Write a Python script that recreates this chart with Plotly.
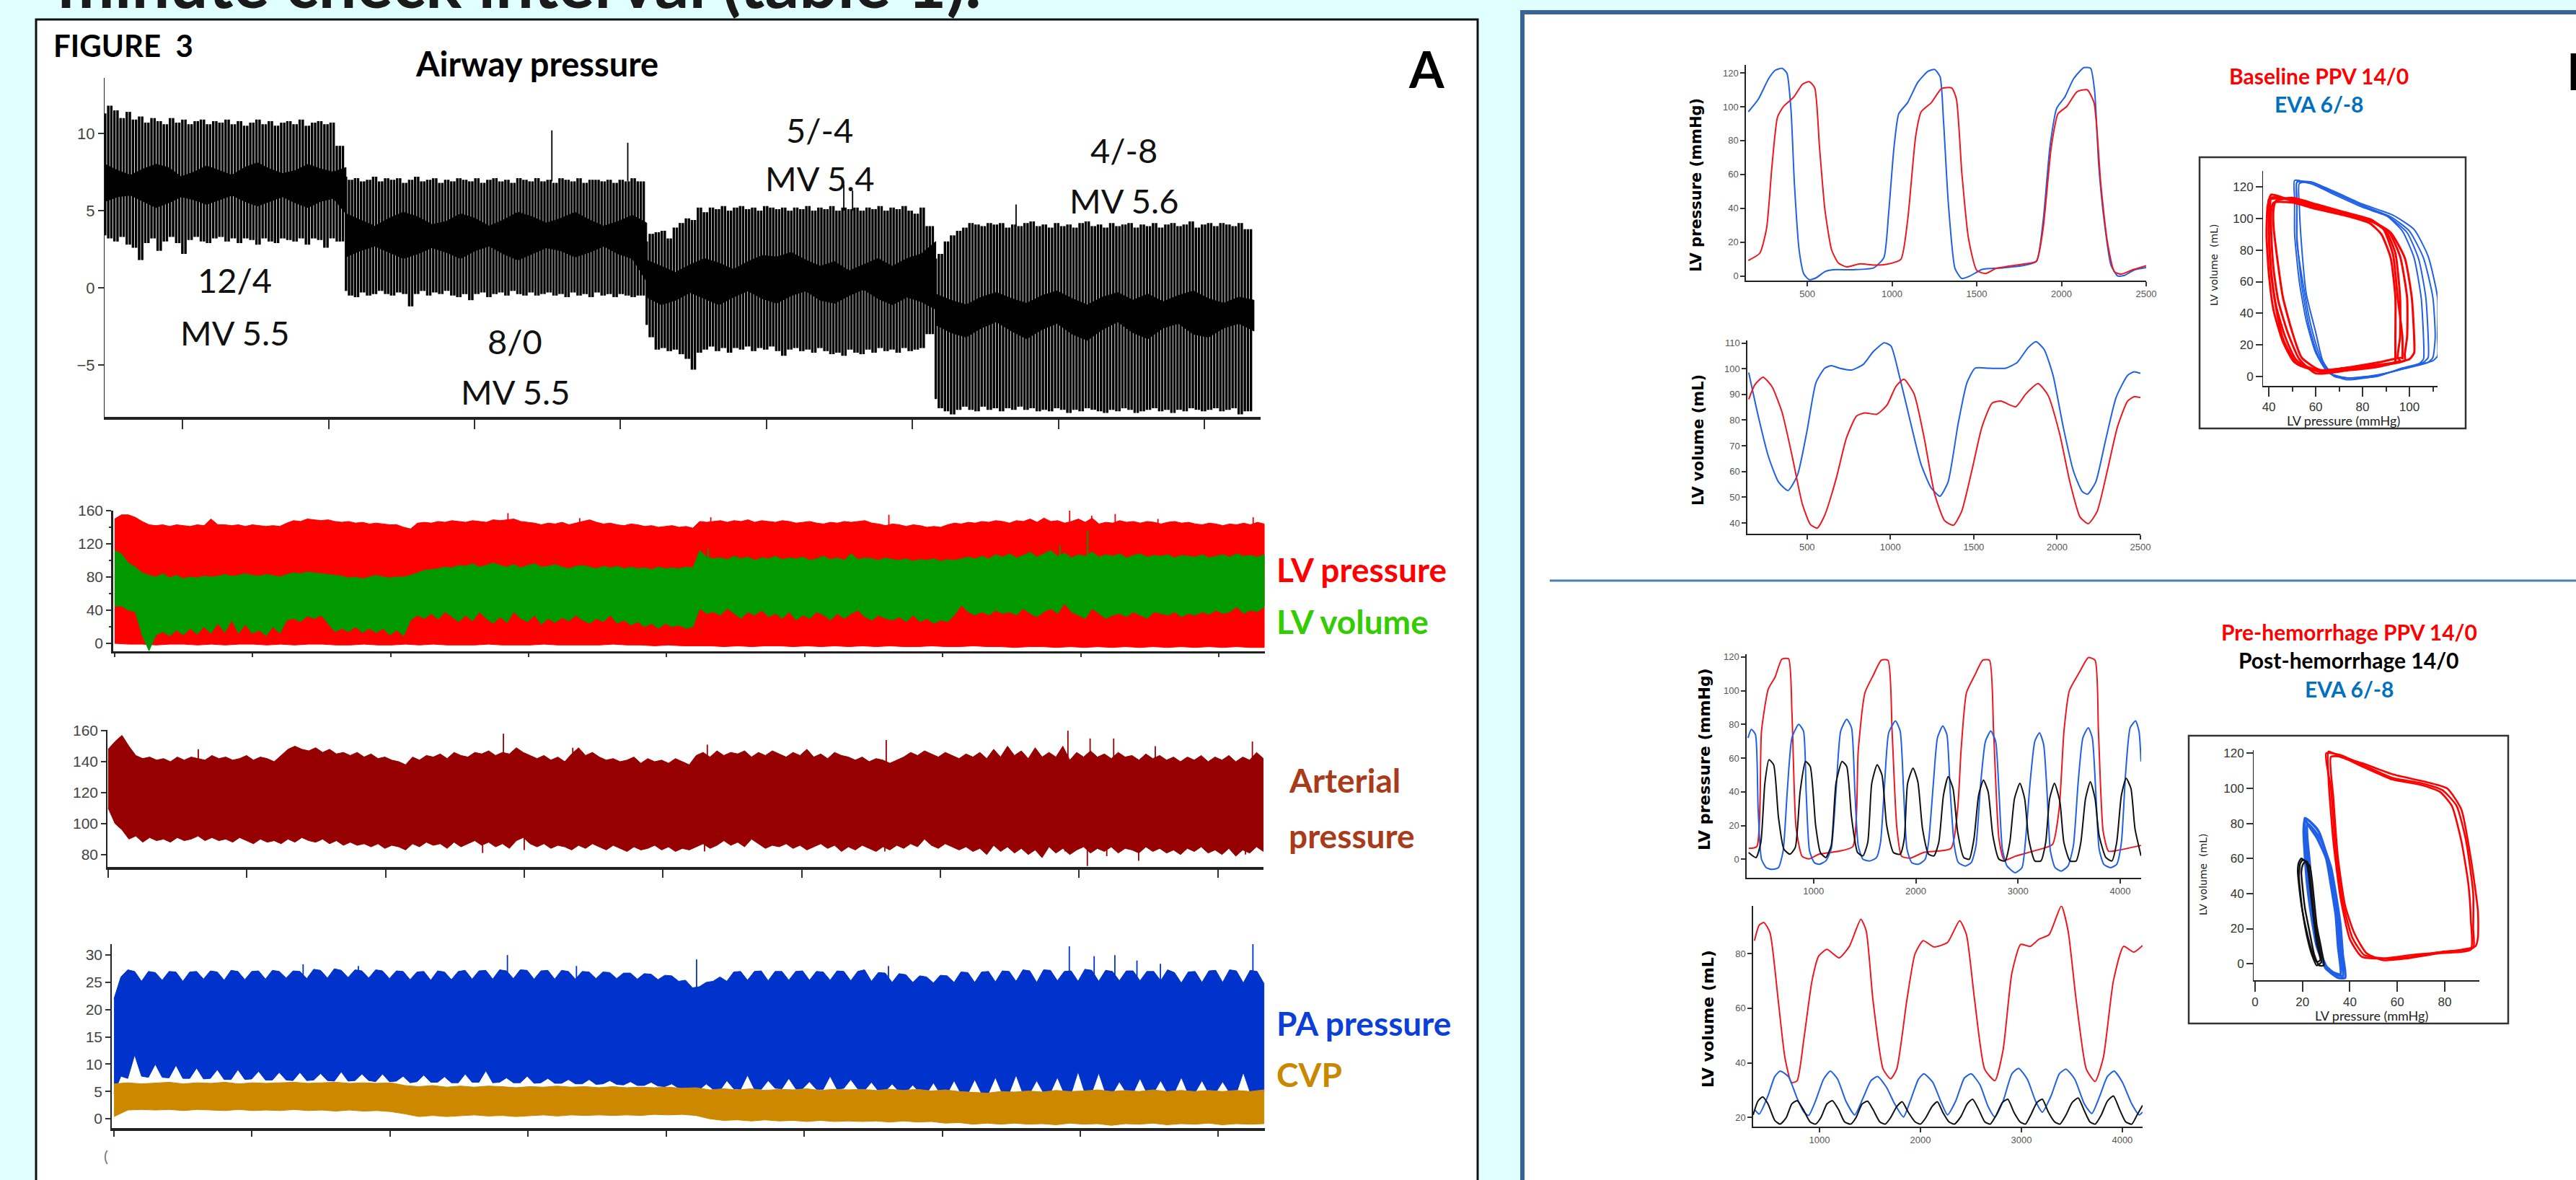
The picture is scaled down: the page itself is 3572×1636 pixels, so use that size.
import numpy as np
import plotly.graph_objects as go

W, H = 3572, 1636
BG = "#E0FFFF"
FONT = "Lato"
TICKFONT = "Liberation Sans"

# ---------- Panel A: airway pressure, one top / bottom value per breath ----------
AW_TOP_1 = [11.3,11.8,11.5,11.0,11.4,10.9,11.1,10.7,11.0,10.8,10.6,11.0,10.7,10.9,10.6,10.8,10.9,10.6,10.8,10.7,10.9,10.6,10.8,10.5,10.7,10.9,10.6,10.8,10.5,10.7,10.8,10.6,10.9,10.5,10.7,10.8,10.6,10.7,9.2]
AW_LOW_1 = [3.4,3.2,3.0,3.3,2.8,2.6,1.8,2.9,3.2,2.4,3.0,3.3,2.9,2.2,3.1,3.3,3.0,2.9,3.2,3.3,3.0,3.2,2.9,3.2,3.1,2.8,3.2,3.0,2.9,3.2,3.1,3.0,3.2,2.8,3.2,3.1,2.6,3.2,3.0]
AW_TOP_2 = [7.2,7.0,7.1,6.9,7.0,7.2,6.9,7.1,7.0,7.1,6.8,7.0,7.2,6.9,7.0,7.1,6.8,7.0,6.9,7.1,7.0,6.9,7.1,6.8,7.0,7.1,6.9,7.0,6.8,7.1,7.0,6.9,7.1,6.9,7.0,6.8,7.1,7.0,6.9,7.1,6.8,7.0,7.0,6.9,7.0,6.8,7.0,6.9,7.1,6.9]
AW_LOW_2 = [-0.2,-0.5,-0.6,-0.3,-0.5,-0.4,-0.2,-0.4,-0.5,-0.3,-0.4,-1.2,-0.4,-0.2,-0.5,-0.3,-0.4,-0.2,-0.5,-0.6,-0.4,-0.8,-0.4,-0.3,-0.6,-0.4,-0.3,-0.5,-0.2,-0.4,-0.5,-0.3,-0.5,-0.4,-0.3,-0.5,-0.4,-0.6,-0.3,-0.5,-0.4,-0.6,-0.3,-0.5,-0.4,-0.6,-0.4,-0.5,-0.6,-0.5]
AW_TOP_3 = [3.0,3.5,3.6,3.7,3.2,3.9,4.2,4.5,4.4,5.2,4.9,5.2,5.1,5.3,5.0,5.2,5.3,5.1,5.2,5.0,5.3,5.2,5.1,5.2,5.0,5.2,5.1,5.3,5.0,5.2,5.1,5.3,5.0,5.2,5.1,5.2,5.0,5.2,5.1,5.3,5.0,5.2,5.1,5.3,5.0,4.8,5.2,4.0]
AW_LOW_3 = [-2.4,-3.2,-4.0,-3.9,-4.1,-4.0,-4.3,-4.6,-5.3,-4.2,-4.0,-3.8,-4.1,-3.9,-4.2,-3.9,-4.0,-3.8,-4.1,-3.9,-4.0,-3.8,-4.1,-4.4,-4.0,-3.9,-4.1,-4.0,-4.2,-3.9,-4.1,-4.3,-4.2,-4.4,-4.0,-4.2,-4.3,-4.0,-4.2,-3.9,-4.1,-4.0,-4.2,-3.9,-4.1,-4.0,-3.9,-3.0]
AW_TOP_4 = [1.9,2.2,3.0,3.4,3.7,3.9,4.2,4.1,4.0,4.2,4.1,4.2,3.9,4.1,4.0,4.2,4.3,4.0,4.1,3.9,4.2,4.0,4.1,3.9,4.2,4.3,4.0,4.1,3.9,4.2,4.0,4.1,4.2,3.9,4.1,4.0,4.2,3.9,4.1,4.2,4.0,4.1,4.3,3.9,4.1,4.2,4.0,4.2,4.1,4.0,4.2,3.8]
AW_LOW_4 = [-7.2,-7.8,-8.0,-8.2,-7.9,-7.7,-7.9,-8.0,-7.7,-7.9,-7.8,-8.0,-7.8,-7.9,-7.7,-7.9,-7.8,-8.0,-7.9,-8.0,-7.8,-7.9,-8.1,-7.9,-8.0,-7.8,-7.9,-8.0,-8.1,-7.9,-8.0,-7.8,-7.9,-8.1,-8.0,-7.9,-7.8,-8.0,-7.9,-8.1,-7.9,-8.0,-7.8,-7.9,-8.0,-7.9,-7.8,-8.0,-7.9,-7.8,-8.2,-8.0]
AW_SEG_T = [0.47, 2.12, 4.18, 6.16, 8.34]
# solid dark middle of each ventilator setting
AW_CORE_TOP = [
 [8.0,7.6,7.3,7.7,8.0,7.8,7.2,7.5,7.9,7.6,7.3,7.8,8.1,7.7,7.4,7.6,8.0,7.7,7.5,7.8],
 [4.8,4.4,4.0,4.5,4.9,4.6,4.1,4.3,4.8,4.5,4.0,4.4,4.9,4.6,4.2,4.5,4.9,4.4,4.0,4.3,4.7,4.2],
 [1.8,1.4,1.0,1.5,1.9,1.6,1.2,1.7,2.1,2.0,2.3,1.8,1.4,1.7,1.1,1.5,1.9,1.4,1.9,2.2,3.0],
 [-0.4,-0.8,-1.1,-0.6,-0.3,-0.7,-1.0,-0.5,-0.2,-0.7,-1.1,-0.6,-0.3,-0.8,-0.4,-0.9,-0.5,-0.2,-0.7,-1.0,-0.6,-0.8]]
AW_CORE_LOW = [
 [5.6,5.9,6.0,5.6,5.2,5.5,5.9,5.7,5.4,5.7,6.0,5.6,5.3,5.6,5.9,5.5,5.2,5.6,5.8,4.8],
 [2.0,2.4,2.7,2.3,1.9,2.2,2.6,2.3,1.9,2.4,2.7,2.2,1.8,2.2,2.6,2.4,2.0,2.3,2.7,2.2,1.9,0.4],
 [-0.6,-1.1,-0.8,-0.3,-0.7,-1.1,-0.6,-0.2,-0.7,-1.0,-0.5,-0.2,-0.8,-1.0,-0.5,-0.1,-0.7,-1.1,-0.6,-0.9,-1.4],
 [-2.4,-2.9,-3.2,-2.6,-2.2,-2.8,-3.3,-2.7,-2.3,-3.0,-3.4,-2.7,-2.2,-2.9,-3.3,-2.6,-2.3,-3.0,-3.2,-2.6,-2.3,-2.8]]
AW_SPIKE_T = [3.53, 4.05, 5.53, 5.59, 6.71]
AW_SPIKE_V = [10.2, 9.4, 6.7, 6.3, 5.4]
AW_SPIKE_BASE = [6.9, 6.9, 5.0, 5.0, 4.0]
AW_YTICKS = [10, 5, 0, -5]
AW_XTICKS = [1, 2, 3, 4, 5, 6, 7, 8]

# ---------- Panel A: envelopes of the dense monitor traces ----------
LVP_TOP = [150,155,155,152,147,143,142,143,141,143,142,141,143,142,150,143,143,142,143,141,143,142,141,142,141,145,148,147,150,149,148,149,147,146,147,145,146,144,145,144,143,143,
 140,138,145,146,145,147,146,148,147,146,148,147,146,149,148,149,150,147,146,145,143,145,144,146,143,145,147,149,146,144,145,143,142,144,143,141,142,140,141,142,140,141,
 139,147,146,147,148,146,148,147,149,146,148,147,146,148,147,145,146,147,145,144,146,145,147,146,147,148,145,144,142,144,143,141,143,142,140,141,140,143,145,144,146,145,
 147,146,148,147,145,148,147,150,146,151,147,148,145,147,150,146,151,144,146,145,148,146,147,145,147,146,144,146,147,145,146,144,143,145,144,142,144,143,145,143,146,144]
LVP_LOW = [0,-1,-1,-2,-1,-1,-2,-1,-2,-1,-1,-2,-1,-2,-1,-1,-2,-2,-1,-2,-2,-1,-2,-1,-2,-2,-2,-1,-2,-2,-2,-1,-2,-2,-2,-2,-1,-2,-2,-3,-2,-3,-3,-3,-4,-3,-4,-3,-3,-4,-3,-4,-3,-4,-3,-4,-3,-4,-4,-3,-4,-4,-3,-4,-4,-5,-4,-4,-5,-4,-5,-4,-5,-4,-5,-4,-5,-4,-5,-4,-5,-4,-5,-5]
LVV_TOP = [112,108,97,92,85,82,80,84,79,82,78,80,79,81,80,81,83,81,82,84,82,81,83,82,80,83,85,84,86,85,84,83,82,81,79,80,78,80,82,80,79,80,
 80,82,85,88,89,90,92,91,94,93,96,92,94,97,94,92,95,91,94,96,92,93,95,92,90,93,94,92,90,93,91,93,90,92,90,91,89,92,90,91,90,92,
 91,112,104,102,103,101,105,102,104,100,103,102,105,101,103,102,104,100,102,105,101,103,100,108,101,103,102,100,103,101,100,102,99,101,100,102,99,101,100,102,104,102,
 105,102,107,104,108,103,106,110,104,108,112,105,109,103,107,105,110,104,107,105,108,103,106,108,104,106,105,107,103,106,105,104,107,103,105,107,104,108,105,106,104,107]
LVV_LOW = [45,45,40,38,10,-9,10,14,9,16,10,18,11,20,12,24,13,28,12,23,12,16,9,20,12,28,30,26,33,30,34,24,14,18,14,20,13,18,13,18,10,16,
 9,28,34,30,36,29,38,32,26,34,27,38,30,24,32,25,38,30,26,34,23,30,25,31,27,34,28,24,30,26,34,24,28,22,26,20,24,18,24,20,22,18,
 20,42,36,38,34,42,36,30,38,34,40,32,36,30,38,28,34,30,38,34,28,36,30,36,40,32,28,34,30,28,32,26,34,26,30,24,28,26,34,46,38,34,
 38,34,40,36,38,34,42,36,32,38,42,36,48,38,34,30,42,36,30,34,36,32,38,34,30,38,36,34,38,32,36,34,38,35,40,36,38,44,36,40,38,44]
ART_TOP = [148,153,157,150,144,142,143,141,142,140,143,141,143,142,141,144,142,143,141,142,144,141,143,142,140,144,148,150,148,147,149,146,148,145,146,144,146,143,145,142,143,141,
 140,138,143,141,144,143,145,142,146,144,143,146,145,147,144,146,145,149,146,144,142,144,141,143,140,145,149,144,146,143,141,142,140,141,143,139,142,140,141,139,142,140,
 138,144,146,143,147,144,146,145,147,143,146,144,147,145,143,146,144,148,143,145,142,146,144,143,141,143,140,142,141,139,141,143,146,144,147,145,143,146,144,142,145,143,
 146,142,148,143,150,144,147,142,149,143,146,143,150,141,146,143,147,143,145,142,146,143,144,141,145,142,144,141,143,140,143,141,144,140,143,141,144,140,143,141,146,142]
ART_LOW = [110,100,96,90,92,88,91,89,90,88,91,89,90,92,89,91,89,90,88,91,89,87,90,88,89,87,90,88,91,89,88,90,87,89,86,88,86,87,85,87,84,86,
 85,83,87,85,88,86,87,84,88,85,87,89,86,88,85,87,84,89,91,87,85,87,84,86,85,83,86,84,87,85,83,86,84,82,85,83,84,86,83,85,82,84,
 83,85,87,84,86,89,86,88,85,90,87,84,86,85,87,84,86,83,85,87,84,86,82,85,83,86,84,82,85,83,86,84,87,85,90,86,84,87,85,83,85,82,
 84,80,86,82,85,81,84,80,83,78,85,81,84,80,83,85,81,84,82,85,81,84,83,81,85,82,84,81,83,80,84,82,85,81,83,80,84,79,83,81,85,82]
PA_TOP = [22,26,27.3,27,25.2,27,26.8,25.4,27,26.9,25.2,26.9,27,25.6,27.1,26.9,25.4,27.2,27,25.5,27,27.1,25.6,27.2,27,25.8,27.1,27,25.7,27.4,27.2,25.8,27.5,27.2,25.9,27.3,27.1,25.8,27.3,27.1,25.7,27.1,
 27,25.5,26.9,27,25.4,27.1,26.9,25.5,27,27.2,25.6,27.1,27.2,25.6,27.3,27.1,25.7,27.3,27.2,25.6,27.1,27.2,25.6,27.2,27,25.6,27,26.9,25.7,26.9,26.8,25.7,26.7,26.7,25.6,26.6,26.5,25.5,26.3,26.2,25.2,25.4,
 24,24.2,25,25.2,26,25.2,26.9,27,25.4,27,27.1,25.3,27,27,25.4,27,27.1,25.4,27,26.9,25.4,27.1,27,25.3,27,27.3,25.2,26.8,26.7,25,26.6,26.4,25,26.2,26,24.9,26.3,26.2,25,26.9,26.8,25,
 26.9,27,25.1,27.1,27,25.2,27.3,27.1,25,27.3,27.2,25.3,27,27.1,25.2,27.4,27.2,25.2,27.2,27,25.3,27.1,27.1,25.3,27,27,25.3,27.3,26.8,24.9,26.9,27,25,27.1,27.2,25,27.3,27.1,24.9,27.2,27,24.8]
PA_LOW = [4.6,7.8,7.4,11.7,7.8,7.6,10,7.6,7.5,9.8,7.4,7.4,9.3,7.3,7.4,9,7.2,7.2,9,7.2,7.3,8.7,7.1,7.1,8.5,7.1,7,8.5,7,7.1,8.3,7,6.9,8.6,6.9,7,8.2,7,6.8,8.2,6.8,6.9,
 7.8,6.6,6.8,8,6.7,6.7,7.7,6.6,6.6,8.2,6.7,6.7,8.8,6.6,6.7,7.5,6.6,6.6,7.8,6.5,6.6,7.4,6.5,6.5,7.2,6.4,6.4,7.2,6.3,6.4,7,6.3,6.2,6.8,6.1,6.1,6.7,6,5.9,6.4,5.6,5.2,
 5.2,5.3,6.4,5.4,5.2,7,5.5,5.4,8,5.4,5.4,7,5.6,5.5,7.4,5.5,5.5,6.8,5.4,5.4,7.8,5.4,5.6,7.2,5.5,5.2,6.7,5.1,5,6.4,5,4.8,6.2,4.8,4.6,6.6,4.6,4.6,7,4.6,4.6,7.2,
 4.6,4.7,7.6,4.6,4.7,8,4.6,4.7,7,4.7,4.8,7.6,4.6,4.6,8.6,4.7,4.8,8.4,4.7,4.6,6.8,4.8,4.7,7.4,4.7,4.8,7,4.7,4.8,7.6,4.6,4.8,7,4.6,4.8,6.8,4.8,4.7,8.5,4.8,4.7,5]
CVP_TOP = [6.4,6.6,6.4,6.5,6.7,6.4,6.6,6.5,6.7,6.4,6.6,6.5,6.6,6.7,6.5,6.6,6.7,6.5,6.6,6.5,6.6,6.1,5.9,6.1,5.8,6,5.8,6,5.9,5.7,5.9,5.8,6,5.8,5.9,5.7,5.9,5.7,5.8,5.7,5.8,5.6,5.7,5.3,5.5,5.3,5.5,5.2,5.4,5.3,5.5,5.2,5.4,5.3,5.4,5.2,5.4,5.2,5.4,5.1,5.3,5,4.9,4.7,5,4.9,5.1,4.9,5.2,5,5.1,5.3,5,5.2,5,5.3,5,5.2,5,5.2,5,5.2,5,5.3]
CVP_LOW = [0.4,1.6,1.7,1.6,1.7,1.5,1.7,1.6,1.5,1.7,1.5,1.6,1.5,1.7,1.5,1.6,1.4,1.6,1.4,1.5,1.3,0.9,0.4,0.6,0.4,0.5,0.7,0.5,0.6,0.4,0.6,0.7,0.5,0.7,0.6,0.7,0.6,0.7,0.6,0.8,0.7,0.8,0.6,0.0,-0.3,-0.2,-0.4,-0.2,-0.4,-0.3,-0.5,-0.3,-0.5,-0.4,-0.5,-0.4,-0.6,-0.4,-0.6,-0.5,-0.8,-0.7,-1.0,-0.8,-1.0,-0.8,-1.0,-0.9,-1.1,-0.8,-1.0,-0.9,-1.2,-0.9,-1.0,-0.8,-1.1,-0.9,-1.0,-0.8,-1.1,-0.9,-1.0,-0.9]
LVP_SPIKE_T = [2.85,3.37,4.32,5.61,6.92,7.08,7.25,7.56,8.25]
LVP_SPIKE_V = [157,151,152,155,160,154,156,150,152]
LVV_SPIKE_T = [7.05,4.3,6.85]
LVV_SPIKE_V = [136,114,118]
ART_SPIKE_T = [0.65,2.85,3.35,4.32,5.61,6.92,7.08,7.25,7.55,8.25]
ART_SPIKE_V = [148,158,149,151,154,160,155,155,150,153]
ART_DIP_T = [2.7,3.0,4.3,5.6,6.9,7.06,7.2,7.43,8.2]
ART_DIP_V = [81,83,82,82,82,72.6,79,76,80]
PA_SPIKE_T = [1.37,1.77,2.85,3.35,4.22,5.61,6.92,7.1,7.25,7.41,7.58,8.25]
PA_SPIKE_V = [28.3,28,30,28,29.2,28,31.6,29.8,30,29,28.4,32]

LV_YTICKS = [160, 120, 80, 40, 0]
LV_YMINOR = [140, 100, 60, 20]
ART_YTICKS = [160, 140, 120, 100, 80]
PA_YTICKS = [30, 25, 20, 15, 10, 5, 0]
STRIP_XTICKS = [0, 1, 2, 3, 4, 5, 6, 7, 8]

# ---------- Panel B top: LV pressure, LV volume ----------
B1_BLUE_T = [152,212,272,312,352,380,404,424,452,480,512,552,604,652,772,892,952,980,1012,1040,1092,1152,1212,1252,1284,1304,1332,1372,1412,1460,1532,1652,1772,1852,1892,1932,1972,2020,2072,2132,2172,2196,2220,2252,2292,2332,2372,2432,2500]
B1_BLUE_V = [97,104.6,116.6,121.6,122.7,119.8,98,54.5,15.3,1.1,-2.2,-1.1,2.6,3.7,3.7,4.8,10.9,37,76.3,95.9,102.4,114.4,120.9,122,117.6,91.5,43.6,4.4,-1.5,0,3.9,4.8,6.1,8.7,32.7,76.3,99.1,105.7,116.6,123.1,122.7,108.9,65.4,32.7,6.5,0,0.4,3.7,5]
B1_RED_T = [152,220,260,292,324,360,420,472,512,544,572,604,644,684,732,812,892,972,1052,1092,1140,1172,1232,1292,1352,1380,1412,1452,1500,1552,1612,1692,1772,1852,1892,1940,1980,2032,2092,2152,2192,2232,2272,2312,2352,2420,2500]
B1_RED_V = [9.2,13.5,28.3,65.4,93.7,100.2,105.7,113.3,114.8,111.1,76.3,39.2,15.3,7.6,5.4,7.2,6.5,7,9.8,32.7,82.8,97,102.4,110.7,111.1,104.6,61,21.8,3.3,1.5,4.4,5.9,7,8.7,28.3,76.3,95.9,100.2,108.9,110,102.4,54.5,19.6,2.6,1.1,3.7,6.1]
B2_BLUE_T = [150,207,268,329,386,443,500,553,606,646,695,768,838,898,963,1004,1053,1122,1183,1244,1297,1346,1407,1459,1508,1590,1691,1760,1825,1874,1923,1976,2037,2098,2150,2183,2232,2289,2354,2423,2463,2500]
B2_BLUE_V = [98.5,81.6,65.9,55.9,52.6,58.7,75.9,94.5,100.2,101.2,100.2,99.5,101.7,106.7,110.1,108.8,97.4,78.8,63,53.7,50.4,55.9,78.8,94.5,100.2,100.2,100.2,102.4,108.1,110.5,107.4,97.4,77.3,60.2,52.3,51.2,55.9,71.6,88.8,97.4,98.8,98.2]
B2_RED_T = [150,187,236,289,350,411,472,520,561,606,675,736,797,846,919,980,1033,1081,1142,1203,1264,1325,1378,1427,1488,1549,1610,1663,1752,1813,1886,1947,2016,2077,2138,2187,2240,2301,2362,2423,2463,2500]
B2_RED_V = [88.1,93.8,96.7,93.1,83.1,65.9,47.3,39.4,38,43,57.3,73,81.6,82.8,82.3,85.9,93.1,95.9,90.2,73,51.6,40.9,39.1,44.4,60.2,77.3,86.6,87.4,85.2,90.2,94.2,89.5,74.5,55.9,42.3,39.7,44.4,60.2,77.3,87.4,89.1,88.8]
B1_YTICKS = [120,100,80,60,40,20,0]
B1_XTICKS = [500,1000,1500,2000,2500]
B2_YTICKS = [110,100,90,80,70,60,50,40]
B2_XTICKS = [500,1000,1500,2000,2500]

# ---------- Panel B top inset: pressure / volume loops ----------
L1_RED_P = [
 [41,50,60,72,84,90,94,96,96,95,96,88,75,62,52,47,43,41,40,40.5,41],
 [41,50,60,72,84,92,98,101,102,102,100,90,76,62,51,46,42,40,39,39.5,41],
 [42,50,60,72,83,88,92,94,94,94,94,86,74,60,53,48,44,42,41,41,42],
 [40,50,60,72,84,91,96,99,99,98,98,88,76,63,52,46,43,41,40,40,40],
 [43,50,60,72,84,89,93,95,97,97,97,87,75,62,54,50,46,44,42,42,43]]
L1_RED_V = [
 [113,112,108,103,98,92,78,50,25,12,10,7,5,3,10,25,45,65,90,105,113],
 [115,111,107,103,98,91,75,50,25,15,11,8,6,4,9,22,42,65,90,108,115],
 [110,110,106,102,97,90,75,50,25,10,9,6,4,2,11,28,48,68,92,105,110],
 [112,112,108,103,98,92,76,50,25,14,10,7,5,3,8,24,44,66,92,108,112],
 [111,113,109,104,99,93,77,50,25,11,12,9,6,4,12,28,50,70,95,106,111]]
L1_BLUE_P = [
 [52,58,68,80,92,100,106,110,111,110,108,98,86,74,67,62,58,55,52,52,52],
 [51,58,68,80,90,97,102,105,106,106,104,95,85,73,65,60,56,53,51,51,51],
 [53,58,68,80,93,102,108,112,112,112,110,100,87,75,68,63,60,56,54,53,53],
 [52,58,68,80,91,99,104,107,108,108,106,96,86,74,66,61,57,54,52,52,52]]
L1_BLUE_V = [
 [123,123,116,108,101,92,75,50,25,12,9,5,1,-1,1,12,32,55,85,110,123],
 [124,122,116,108,102,92,75,50,25,11,8,4,0,-2,3,15,35,60,90,112,124],
 [122,123,117,109,102,93,76,50,25,13,10,6,1,-1,0,10,28,52,82,108,122],
 [123,122,115,107,101,91,74,50,25,12,9,5,0,-1,2,13,33,58,88,111,123]]
L1_YTICKS = [120,100,80,60,40,20,0]
L1_XTICKS = [40,60,80,100]
L1_XMINOR = [50,70,90,110]

# ---------- Panel B bottom: LV pressure, LV volume ----------
B3_RED_T = [365,444,490,557,623,689,755,788,828,887,954,1053,1252,1384,1437,1503,1583,1662,1728,1768,1814,1861,1947,2079,2344,2410,2443,2496,2576,2655,2721,2761,2814,2867,2973,3172,3337,3403,3450,3503,3602,3688,3754,3787,3833,3886,3966,4204]
B3_RED_V = [6.4,7.5,76,101,108,118.6,118.9,87,19,1.8,0.2,3,4.8,7.5,64.6,98.8,109,118,118,76,19,1.8,0.7,4.1,6.4,30,64.6,98.8,109,118,118,76,12,-0.5,1.8,5.2,8.7,30,76,100,111,119.6,118,76,16.7,4.8,5.2,8.2]
B3_BLUE_T = [358,391,431,457,490,537,590,656,702,742,788,854,901,927,960,1007,1053,1119,1172,1219,1265,1324,1371,1404,1437,1483,1550,1616,1655,1695,1735,1801,1847,1881,1914,1960,2026,2092,2125,2172,2212,2264,2304,2337,2377,2417,2483,2543,2589,2635,2682,2734,2781,2814,2847,2893,2973,3039,3072,3118,3165,3211,3251,3284,3317,3363,3423,3489,3542,3588,3635,3688,3727,3761,3794,3840,3906,3966,4012,4052,4098,4151,4184,4204]
B3_BLUE_V = [72,77,74,30,0,-5,-6,-5,5,40,72,80,76,40,5,-2,-3,-1,6,40,76,83,78,40,8,0,-1,1,10,45,75,82,76,40,6,-2,-3,0,10,45,72,79,74,40,8,-2,-4,-2,8,45,70,76,70,40,6,-4,-8,-5,10,45,70,75,68,40,5,-5,-7,-4,8,45,72,78,72,40,6,-3,-5,-3,10,50,78,82,76,58]
B3_BLACK_T = [364,437,484,523,563,609,656,709,768,821,868,921,967,1020,1066,1119,1172,1219,1278,1324,1371,1430,1483,1530,1569,1622,1669,1715,1781,1847,1887,1920,1973,2020,2066,2125,2178,2225,2271,2317,2364,2410,2470,2523,2569,2615,2662,2708,2754,2814,2874,2920,2966,3019,3065,3105,3165,3224,3271,3310,3357,3410,3449,3509,3569,3615,3661,3708,3754,3794,3860,3919,3966,4012,4058,4105,4145,4204]
B3_BLACK_V = [4,1,10,45,59,56,25,6,3,7,40,58,55,20,4,1,8,45,58,55,25,4,2,10,45,56,50,20,4,3,12,45,54,46,18,3,2,10,38,49,42,16,1,0,12,38,47,40,14,0,-1,10,36,45,36,12,-1,-1,10,36,45,34,10,-1,-1,10,36,46,36,14,1,-1,10,38,48,42,18,2]
B4_RED_T = [356,403,450,510,591,658,725,779,846,926,993,1074,1195,1296,1410,1463,1530,1631,1705,1765,1866,1946,2027,2134,2268,2389,2456,2537,2637,2738,2819,2906,2993,3087,3174,3275,3396,3463,3543,3644,3731,3812,3912,4013,4114,4201]
B4_RED_V = [84.7,90.4,91.3,87.6,63,41.9,32.8,33.5,48.9,70,79.1,81.5,78.4,82.6,92.5,88.3,63,37.7,34.2,37.7,63,79.8,84.7,82.4,84,92,86.9,63,37.7,33.5,44.7,72.8,83.3,82.6,85.2,86.9,97.4,88.3,63,37.7,33.2,41.9,70,82.6,80.5,82.9]
B4_BLUE_T = [356,403,490,557,611,692,779,846,893,960,1040,1108,1181,1262,1349,1430,1510,1577,1665,1745,1832,1899,1980,2034,2121,2201,2268,2349,2436,2503,2590,2671,2738,2819,2906,2973,3060,3141,3208,3295,3376,3443,3530,3624,3698,3778,3852,3919,4000,4094,4167,4201]
B4_BLUE_V = [23,21.3,28,35,37,35,27,22,20.8,26,34,37,34,26,21,27,33.5,35,31,25,20.2,26,34,36,33,26,21,26,34.5,36,32,24,20.2,26,36,38,34,26,22,28,36,37.7,34,25,21.5,28,35,37,33,25,21,22]
B4_BLACK_T = [343,390,437,490,557,611,671,725,779,839,906,960,1014,1074,1128,1188,1248,1309,1362,1423,1477,1530,1597,1651,1705,1765,1819,1879,1946,2000,2054,2114,2168,2221,2282,2336,2403,2463,2517,2577,2637,2691,2752,2812,2866,2926,2986,3040,3094,3154,3208,3268,3329,3382,3443,3503,3563,3624,3678,3731,3792,3852,3912,3973,4033,4094,4147,4201]
B4_BLACK_V = [21,26,27.6,25,19,17.6,20,25,26.2,23,18.5,17.6,20,25,26.2,23,18.5,17.6,20,25,26,23,18.5,17.6,20,24,25.8,22,18.5,17.6,20,24,25.8,22,18.5,17.6,20.5,25,26.7,23,18.5,17.6,21,25.5,26.7,22,18.5,17.6,21,25.5,26.7,22,18.5,17.6,21,25.5,27.2,22.5,18.5,17.6,21,26,27.9,23,18.5,17.6,21,24.5]
B3_YTICKS = [120,100,80,60,40,20,0]
B3_XTICKS = [1000,2000,3000,4000]
B4_YTICKS = [80,60,40,20]
B4_XTICKS = [1000,2000,3000,4000]

# ---------- Panel B bottom inset ----------
L2_RED_P = [
 [30,36,46,58,70,79,85,89,92,92,92,80,66,55,46,41,37,34,32,30],
 [31,36,46,58,71,81,87,91,94,94,93,82,66,54,45,40,36,33,31,31],
 [32,36,46,58,70,78,83,87,90,91,91,78,64,54,47,42,38,35,33,32]]
L2_RED_V = [
 [120,119,113,106,103,99,90,70,40,20,9,7,4,3,5,15,35,65,100,120],
 [121,118,114,108,104,100,88,60,30,15,10,7,5,3,4,14,38,70,105,121],
 [118,118,112,105,102,98,90,70,45,25,8,6,3,2,6,17,33,60,95,118]]
L2_BLUE_P = [
 [21,24,27,31,33,35,36,37,34,30,27,25,23,22,21,21],
 [22,25,28,32,34,36,37,38,35,31,28,26,24,23,22,22],
 [21,23,26,30,32,34,35,36,33,29,26,24,22,21,20.5,21]]
L2_BLUE_V = [
 [83,80,75,58,42,25,8,-7,-6,-3,8,20,40,60,75,83],
 [80,76,70,55,40,22,5,-8,-8,-4,5,18,38,58,72,80],
 [82,78,72,60,45,28,10,-6,-5,0,10,25,45,62,76,82]]
L2_BLACK_P = [
 [20,22,23,24,25,27,28,26,24,22,20,19,18.5,19,20],
 [21,23,24,25,26,28,29,27,25,23,21,20,19.5,20,21],
 [19.5,21.5,22.5,23.5,24.5,26,27.5,26,24,21.5,19.5,18.5,18,18.5,19.5]]
L2_BLACK_V = [
 [59,58,50,38,25,10,1,-1,5,15,30,42,50,57,59],
 [58,56,48,35,22,8,-1,-1,5,18,32,44,52,56,58],
 [60,58,52,40,28,12,2,1,7,20,34,45,53,58,60]]
L2_YTICKS = [120,100,80,60,40,20,0]
L2_XTICKS = [0,20,40,60,80]

# ---------- Colours ----------
RED = "#FF0000"; GREEN = "#009900"; MAROON = "#960000"; ROYAL = "#0033CC"; OCHRE = "#CC8800"
CRED = "#F0161E"; CBLUE = "#2060E8"

fig = go.Figure()
layout = {}

def add_axes(n, box, xr, yr, xticks, yticks, xlen=6, ylen=6, xlabels=False, xline=2, yline=1.5,
             tickfont=13, tickcolor="#555555", xminor=None, yminor=None):
    left, right, top, bottom = box
    s = "" if n == 1 else str(n)
    xa = dict(domain=[left / W, right / W], range=xr, anchor="y" + s, showgrid=False, zeroline=False,
              showline=True, linecolor="#222222", linewidth=xline, ticks="outside", ticklen=xlen, tickwidth=1.5,
              tickcolor="#333333", tickmode="array", tickvals=xticks, showticklabels=xlabels,
              tickfont=dict(family=TICKFONT, size=tickfont, color=tickcolor), fixedrange=True)
    ya = dict(domain=[1 - bottom / H, 1 - top / H], range=yr, anchor="x" + s, showgrid=False, zeroline=False,
              showline=True, linecolor="#222222", linewidth=yline, ticks="outside", ticklen=ylen, tickwidth=1.5,
              tickcolor="#333333", tickmode="array", tickvals=yticks, showticklabels=True,
              tickfont=dict(family=TICKFONT, size=tickfont, color=tickcolor), fixedrange=True)
    if xminor:
        xa["minor"] = dict(tickmode="array", tickvals=xminor, ticks="outside", ticklen=max(3, xlen // 2), tickcolor="#333333", showgrid=False)
    if yminor:
        ya["minor"] = dict(tickmode="array", tickvals=yminor, ticks="outside", ticklen=max(3, ylen // 2), tickcolor="#333333", showgrid=False)
    layout["xaxis" + s] = xa
    layout["yaxis" + s] = ya
    return ("x" + s, "y" + s)

def line(ax, x, y, color, width=2):
    l = dict(color=color, width=width, shape="spline", smoothing=0.55)
    fig.add_trace(go.Scatter(x=x, y=y, mode="lines", line=l, xaxis=ax[0], yaxis=ax[1], hoverinfo="skip", showlegend=False))

def band(ax, t, top, low, color):
    x = list(t) + list(t[::-1])
    y = list(top) + list(low[::-1])
    fig.add_trace(go.Scatter(x=x, y=y, mode="lines", fill="toself", fillcolor=color, line=dict(color=color, width=1),
                             xaxis=ax[0], yaxis=ax[1], hoverinfo="skip", showlegend=False))

def spikes(ax, ts, vs, base, color, width=1.8):
    xs, ys = [], []
    for i, (t, v) in enumerate(zip(ts, vs)):
        b = base[i] if isinstance(base, list) else base
        xs += [t, t, None]
        ys += [b, v, None]
    fig.add_trace(go.Scatter(x=xs, y=ys, mode="lines", line=dict(color=color, width=width),
                             xaxis=ax[0], yaxis=ax[1], hoverinfo="skip", showlegend=False))

def env_t(arr, end=8.33):
    return np.linspace(0.0, end, len(arr)).tolist()

# --- airway ---
a1 = add_axes(1, (145, 1748, 108, 578), [0.466, 8.385], [-8.36, 13.6], AW_XTICKS, AW_YTICKS,
              xlen=13, ylen=8, xline=4, yline=1, tickfont=22, tickcolor="#444444")
segs = [(AW_TOP_1, AW_LOW_1), (AW_TOP_2, AW_LOW_2), (AW_TOP_3, AW_LOW_3), (AW_TOP_4, AW_LOW_4)]
bx, by = [], []
for k, (tops, lows) in enumerate(segs):
    t0, t1 = AW_SEG_T[k], AW_SEG_T[k + 1]
    dt = (t1 - t0) / len(tops)
    for i in range(len(tops)):
        j = min(i + 1, len(tops) - 1)
        bx += [t0 + i * dt, t0 + i * dt, None, t0 + (i + 0.5) * dt, t0 + (i + 0.5) * dt, None]
        by += [lows[i], tops[i], None, lows[j], tops[j], None]
    band(a1, np.linspace(t0, t1, len(AW_CORE_TOP[k])).tolist(), AW_CORE_TOP[k], AW_CORE_LOW[k], "#000000")
fig.add_trace(go.Scatter(x=bx, y=by, mode="lines", line=dict(color="#000000", width=3.4), xaxis=a1[0], yaxis=a1[1],
                         hoverinfo="skip", showlegend=False))
spikes(a1, AW_SPIKE_T, AW_SPIKE_V, AW_SPIKE_BASE, "#000000", 1.8)

# --- LV pressure / volume strip ---
a2 = add_axes(2, (157, 1754, 708, 903), [-0.01, 8.335], [-9.6, 160], STRIP_XTICKS, LV_YTICKS,
              xlen=5, ylen=7, xline=3, yline=2.5, tickfont=21, tickcolor="#444444", yminor=LV_YMINOR)
band(a2, env_t(LVP_TOP), LVP_TOP, [60] * len(LVP_TOP), RED)
band(a2, env_t(LVP_LOW), [60] * len(LVP_LOW), LVP_LOW, RED)
spikes(a2, LVP_SPIKE_T, LVP_SPIKE_V, 135, RED)
band(a2, env_t(LVV_TOP), LVV_TOP, LVV_LOW, GREEN)
spikes(a2, LVV_SPIKE_T, LVV_SPIKE_V, 90, GREEN)

# --- arterial strip ---
a3 = add_axes(3, (149, 1752, 1012, 1202), [-0.005, 8.33], [72, 160.5], STRIP_XTICKS, ART_YTICKS,
              xlen=11, ylen=7, xline=4, yline=1.5, tickfont=21, tickcolor="#444444")
band(a3, env_t(ART_TOP), ART_TOP, ART_LOW, MAROON)
spikes(a3, ART_SPIKE_T, ART_SPIKE_V, 130, MAROON)
spikes(a3, ART_DIP_T, ART_DIP_V, 100, MAROON)

# --- PA / CVP strip ---
a4 = add_axes(4, (155, 1754, 1309, 1564), [-0.016, 8.337], [-1.7, 32], STRIP_XTICKS, PA_YTICKS,
              xlen=8, ylen=7, xline=4, yline=1.5, tickfont=21, tickcolor="#444444")
band(a4, env_t(PA_TOP), PA_TOP, PA_LOW, ROYAL)
spikes(a4, PA_SPIKE_T, PA_SPIKE_V, 24, ROYAL)
band(a4, env_t(CVP_TOP), CVP_TOP, CVP_LOW, OCHRE)

# --- panel B top ---
a5 = add_axes(5, (2421, 2976, 90, 389), [138, 2500], [-2.7, 124.7], B1_XTICKS, B1_YTICKS, xlabels=True, xline=1.5)
line(a5, B1_BLUE_T, B1_BLUE_V, CBLUE)
line(a5, B1_RED_T, B1_RED_V, CRED)
a6 = add_axes(6, (2423, 2968, 472, 740), [142, 2500], [35.8, 111], B2_XTICKS, B2_YTICKS, xlabels=True, xline=1.5)
line(a6, B2_BLUE_T, B2_BLUE_V, CBLUE)
line(a6, B2_RED_T, B2_RED_V, CRED)
a7 = add_axes(7, (3138, 3380, 237, 535), [37.5, 112], [-5.9, 130], L1_XTICKS, L1_YTICKS, xlabels=True, xlen=13, ylen=9,
              xline=1.5, yline=1, tickfont=17, tickcolor="#333333", xminor=L1_XMINOR)
for p, v in zip(L1_BLUE_P, L1_BLUE_V):
    line(a7, p, v, CBLUE, 2)
for p, v in zip(L1_RED_P, L1_RED_V):
    line(a7, p, v, RED, 3)

# --- panel B bottom ---
a8 = add_axes(8, (2422, 2969, 907, 1217), [345, 4205], [-11, 121.6], B3_XTICKS, B3_YTICKS, xlabels=True, xline=1.5)
line(a8, B3_RED_T, B3_RED_V, CRED)
line(a8, B3_BLUE_T, B3_BLUE_V, CBLUE)
line(a8, B3_BLACK_T, B3_BLACK_V, "#111111")
a9 = add_axes(9, (2431, 2971, 1256, 1562), [343, 4201], [16.7, 97.4], B4_XTICKS, B4_YTICKS, xlabels=True, xline=1.5)
line(a9, B4_RED_T, B4_RED_V, CRED)
line(a9, B4_BLUE_T, B4_BLUE_V, CBLUE)
line(a9, B4_BLACK_T, B4_BLACK_V, "#111111")
a10 = add_axes(10, (3125, 3438, 1040, 1359), [-0.6, 94.6], [-9.4, 121.8], L2_XTICKS, L2_YTICKS, xlabels=True, xlen=14, ylen=9,
               xline=1.5, yline=1, tickfont=17, tickcolor="#333333")
for p, v in zip(L2_RED_P, L2_RED_V):
    line(a10, p, v, RED, 2.6)
for p, v in zip(L2_BLUE_P, L2_BLUE_V):
    line(a10, p, v, CBLUE, 3.5)
for p, v in zip(L2_BLACK_P, L2_BLACK_V):
    line(a10, p, v, "#111111", 2.4)

# --- frames ---
def rect(x0, y0, x1, y1, fill, lc, lw):
    return dict(type="rect", xref="paper", yref="paper", x0=x0 / W, x1=x1 / W, y0=1 - y0 / H, y1=1 - y1 / H,
                fillcolor=fill, line=dict(color=lc, width=lw), layer="below")
shapes = [
    rect(50, 27, 2049, 1660, "#FFFFFF", "#111111", 3),
    rect(2111, 17, 3600, 1660, "#FFFFFF", "#3A6592", 6),
    rect(3050, 218, 3419, 594, "#FFFFFF", "#333333", 2.5),
    rect(3035, 1020, 3478, 1419, "#FFFFFF", "#333333", 2.5),
    dict(type="line", xref="paper", yref="paper", x0=2149 / W, x1=1, y0=1 - 805 / H, y1=1 - 805 / H,
         line=dict(color="#4A7EBB", width=3), layer="below"),
]

# --- text ---
ann = []
def text(x, y, s, size, color="#000000", bold=False, anchor="center", angle=0, family=FONT):
    ann.append(dict(x=x / W, y=1 - y / H, xref="paper", yref="paper", text=("<b>%s</b>" % s) if bold else s,
                    showarrow=False, xanchor=anchor, yanchor="middle", textangle=angle,
                    font=dict(family=family, size=size, color=color)))

text(720, -25, "minute check interval (table 1).", 94, "#1A1A1A", True)
text(72, 63, "FIGURE\u00a0\u00a03", 42, "#000000", True, "left")
text(744, 88, "Airway pressure", 47, "#000000", True)
text(1978, 95, "A", 70, "#000000", True)
for x, y, s in [(325, 388, "12/4"), (325, 461, "MV 5.5"), (714, 473, "8/0"), (714, 543, "MV 5.5"),
                (1136, 180, "5/-4"), (1136, 247, "MV 5.4"), (1558, 208, "4/-8"), (1558, 278, "MV 5.6")]:
    text(x, y, s, 47, "#111111")
text(1768, 789, "LV pressure", 46, "#FF0000", True, "left")
text(1768, 862, "LV volume", 46, "#33CC00", True, "left")
text(1785, 1081, "Arterial", 46, "#A93B1A", True, "left")
text(1785, 1158, "pressure", 46, "#A93B1A", True, "left")
text(1768, 1418, "PA pressure", 46, "#0B3FD8", True, "left")
text(1768, 1489, "CVP", 46, "#C88800", True, "left")
text(147, 1602, "(", 22, "#777777")
text(3557, 98, "B", 70, "#000000", True, "left")
text(3215, 105, "Baseline PPV 14/0", 30, "#FF0000", True)
text(3215, 144, "EVA 6/-8", 30, "#0070C0", True)
text(3257, 876, "Pre-hemorrhage PPV 14/0", 30, "#FF0000", True)
text(3257, 915, "Post-hemorrhage 14/0", 30, "#000000", True)
text(3257, 955, "EVA 6/-8", 30, "#0070C0", True)
for x, y, s, fs in [(2352, 257, "LV pressure (mmHg)", 21), (2355, 610, "LV volume (mL)", 21),
                    (2363, 1053, "LV pressure (mmHg)", 22), (2368, 1413, "LV volume (mL)", 22)]:
    text(x, y, s, fs, "#000000", True, angle=-90, family="DejaVu Sans")
text(3249, 583, "LV pressure (mmHg)", 18, "#222222")
text(3070, 368, "LV volume  (mL)", 14, "#222222", angle=-90, family="DejaVu Sans")
text(3288, 1408, "LV pressure (mmHg)", 18, "#222222")
text(3055, 1213, "LV volume  (mL)", 14, "#222222", angle=-90, family="DejaVu Sans")

fig.update_layout(width=W, height=H, autosize=False, margin=dict(l=0, r=0, t=0, b=0, pad=0, autoexpand=False),
                  paper_bgcolor=BG, plot_bgcolor="rgba(0,0,0,0)", showlegend=False, hovermode=False,
                  shapes=shapes, annotations=ann, **layout)
fig.write_html("out.html", config=dict(displayModeBar=False),
               post_script="document.body.style.margin='0';document.documentElement.style.overflow='hidden';")
